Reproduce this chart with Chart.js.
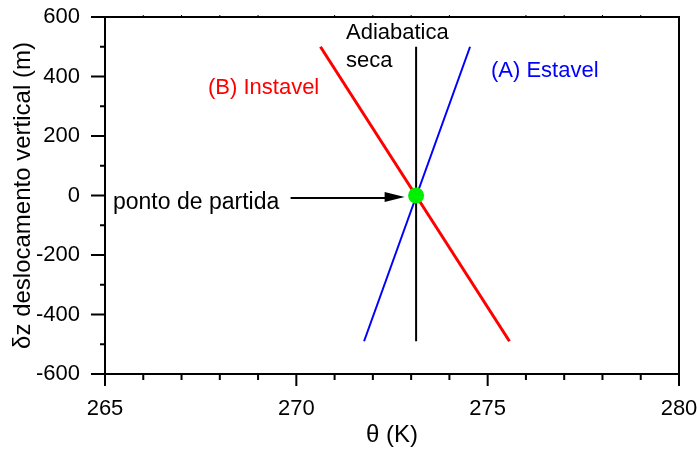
<!DOCTYPE html>
<html>
<head>
<meta charset="utf-8">
<script src="https://cdn.jsdelivr.net/npm/chart.js@4.4.0/dist/chart.umd.min.js"></script>
<style>
    html, body { margin: 0; padding: 0; background: #fff; }
    #wrap { width: 697px; height: 450px; }
</style>
</head>
<body>
<div id="wrap"><canvas id="chart" width="697" height="450"></canvas></div>
<script>
// dados
const instavel = [{x: 270.63, y: 500}, {x: 275.57, y: -490}];
const estavel = [{x: 271.77, y: -490}, {x: 274.54, y: 500}];
const adiabatica = [{x: 273.13, y: 500}, {x: 273.13, y: -490}];
const partida = [{x: 273.13, y: 0}];
const xTicks = [265, 270, 275, 280];
const yTicks = [-600, -400, -200, 0, 200, 400, 600];
const xMinor = [266, 267, 268, 269, 271, 272, 273, 274, 276, 277, 278, 279];
const yMinor = [-500, -300, -100, 100, 300, 500];

const FONT = 'Liberation Sans, Arial, sans-serif';

// tira o espaco extra que o Chart.js reserva para os rotulos
const noPad = s => { s.paddingTop = 0; s.paddingBottom = 0; s.paddingLeft = 0; s.paddingRight = 0; };

// eixos, ticks e textos
const framePlugin = {
    id: 'frame',
    afterDraw(chart) {
        const {ctx, chartArea: a, scales: {x, y}} = chart;
        ctx.save();
        ctx.strokeStyle = '#000';
        ctx.lineWidth = 2;
        ctx.strokeRect(a.left, a.top, a.right - a.left, a.bottom - a.top);
        ctx.beginPath();
        xTicks.forEach(v => { const px = x.getPixelForValue(v); ctx.moveTo(px, a.bottom); ctx.lineTo(px, a.bottom + 12); });
        xMinor.forEach(v => { const px = x.getPixelForValue(v); ctx.moveTo(px, a.bottom); ctx.lineTo(px, a.bottom + 6); });
        yTicks.forEach(v => { const py = y.getPixelForValue(v); ctx.moveTo(a.left, py); ctx.lineTo(a.left - 14, py); });
        yMinor.forEach(v => { const py = y.getPixelForValue(v); ctx.moveTo(a.left, py); ctx.lineTo(a.left - 5, py); });
        ctx.stroke();
        ctx.lineWidth = 1;
        ctx.beginPath();
        xMinor.forEach(v => { const px = x.getPixelForValue(v); ctx.moveTo(px, a.top); ctx.lineTo(px, a.top - 2); });
        ctx.stroke();

        // seta
        const ay = y.getPixelForValue(-8);
        const x0 = x.getPixelForValue(269.85), x1 = x.getPixelForValue(272.83);
        ctx.lineWidth = 2;
        ctx.beginPath();
        ctx.moveTo(x0, ay);
        ctx.lineTo(x1 - 14, ay);
        ctx.stroke();
        ctx.fillStyle = '#000';
        ctx.beginPath();
        ctx.moveTo(x1, ay - 1);
        ctx.lineTo(x1 - 20, ay - 6);
        ctx.lineTo(x1 - 20, ay + 4);
        ctx.closePath();
        ctx.fill();

        // textos
        ctx.textBaseline = 'middle';
        ctx.textAlign = 'left';
        ctx.font = '22px ' + FONT;
        ctx.fillStyle = '#000';
        ctx.fillText('Adiabatica', 346, 33);
        ctx.fillText('seca', 346, 61);
        ctx.fillStyle = '#ff0000';
        ctx.fillText('(B) Instavel', 208, 88);
        ctx.fillStyle = '#0000ff';
        ctx.fillText('(A) Estavel', 491, 71);
        ctx.fillStyle = '#000';
        ctx.font = '23px ' + FONT;
        ctx.fillText('ponto de partida', 113, 203);
        ctx.restore();
    }
};

new Chart(document.getElementById('chart'), {
    type: 'line',
    data: {
        datasets: [
            // o primeiro dataset fica por cima
            {label: 'ponto de partida', data: partida, showLine: false, pointRadius: 8,
                pointBackgroundColor: '#00f000', pointBorderWidth: 0, borderColor: '#00f000'},
            {label: '(B) Instavel', data: instavel, borderColor: '#ff0000', borderWidth: 3, pointRadius: 0},
            {label: '(A) Estavel', data: estavel, borderColor: '#0000ff', borderWidth: 2, pointRadius: 0},
            {label: 'Adiabatica seca', data: adiabatica, borderColor: '#000', borderWidth: 2, pointRadius: 0}
        ]
    },
    options: {
        responsive: false,
        animation: false,
        layout: {padding: {top: 17, right: 18, left: 0, bottom: 0}},
        plugins: {legend: {display: false}, tooltip: {enabled: false}},
        scales: {
            x: {
                type: 'linear', min: 265, max: 280,
                afterBuildTicks: s => { s.ticks = xTicks.map(v => ({value: v})); },
                afterFit: s => { s.height = 76; noPad(s); },
                grid: {display: false, drawTicks: false},
                border: {display: false},
                ticks: {color: '#000', padding: 22, font: {family: FONT, size: 22}, maxRotation: 0},
                title: {display: true, text: 'θ (K)', color: '#000', font: {family: FONT, size: 24}, padding: {bottom: 0}}
            },
            y: {
                type: 'linear', min: -600, max: 600,
                afterBuildTicks: s => { s.ticks = yTicks.map(v => ({value: v})); },
                afterFit: s => { s.width = 105; noPad(s); },
                grid: {display: false, drawTicks: false},
                border: {display: false},
                ticks: {color: '#000', padding: 25, font: {family: FONT, size: 22}},
                title: {display: true, text: 'δz deslocamento vertical (m)', color: '#000', font: {family: FONT, size: 24}, padding: {top: 9}}
            }
        }
    },
    plugins: [framePlugin]
});
</script>
</body>
</html>
